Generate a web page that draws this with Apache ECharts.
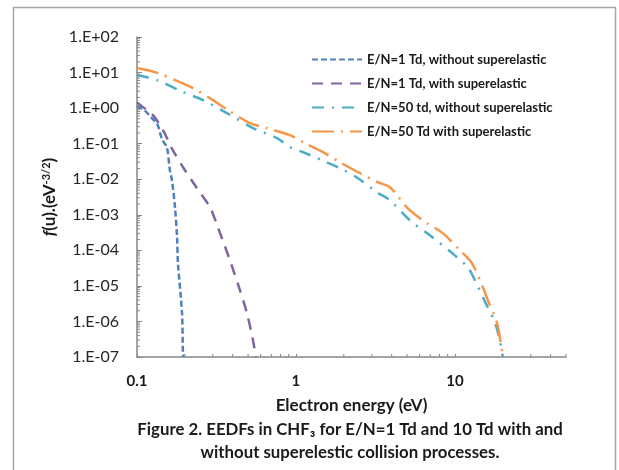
<!DOCTYPE html>
<html>
<head>
<meta charset="utf-8">
<script src="https://cdn.jsdelivr.net/npm/echarts@6/dist/echarts.min.js"></script>
<style>html,body{margin:0;padding:0;background:#fff}#c{width:619px;height:470px}</style>
</head>
<body>
<div id="c"></div>
<script>
// ---- data (x: electron energy eV, y: f(u)) ----
var seriesNames = [
  'E/N=1 Td, without superelastic',
  'E/N=1 Td, with superelastic',
  'E/N=50 td, without superelastic',
  'E/N=50 Td with superelastic'
];
var blue1Td = [[0.1,1.15],[0.112,0.85],[0.124,0.52],[0.134,0.36],[0.144,0.13],[0.154,0.08],[0.161,0.018],[0.166,0.0094],[0.1734,0.0016],[0.1786,2.4e-4],[0.181,4.3e-5],[0.192,1.7e-6],[0.1945,1.3e-7],[0.196,1e-7]];
var purple1Td = [[0.1,1.45],[0.113,0.95],[0.126,0.635],[0.1457,0.24],[0.168,0.0656],[0.2003,0.0179],[0.2385,0.00557],[0.2877,0.00163],[0.323,4.4e-4],[0.3845,5.2e-5],[0.4446,7.5e-6],[0.492,1.68e-6],[0.537,2.9e-7],[0.56,1e-7]];
var teal50Td = [[0.1,8.5],[0.1336,6.15],[0.1945,2.82],[0.26,1.68],[0.368,0.72],[0.537,0.273],[0.76,0.143],[0.916,0.0797],[1.107,0.0576],[1.457,0.0343],[1.892,0.0204],[2.455,0.01067],[3.23,0.0043],[3.9,0.00256],[5.21,7.0e-4],[6.96,2.65e-4],[10.0,7.2e-5],[12.08,3.3e-5],[13.37,1.43e-5],[15.89,2.8e-6],[17.86,9.4e-7],[19.19,2.9e-7],[20.0,1e-7]];
var orange50Td = [[0.1,13.4],[0.1297,10.3],[0.186,5.4],[0.225,3.66],[0.3005,1.68],[0.3737,0.88],[0.514,0.378],[0.657,0.273],[0.916,0.173],[1.139,0.103],[1.479,0.0576],[1.892,0.0301],[2.527,0.01475],[3.28,0.00822],[3.9,0.00595],[5.06,0.00152],[6.66,5.8e-4],[8.28,3.2e-4],[10.45,1.14e-4],[12.8,4.3e-5],[15.0,9.1e-6],[16.14,3.9e-6],[18.37,9.4e-7],[19.45,2.4e-7],[20.0,1e-7]];

// ---- axis ticks / labels ----
var xTickValues = [0.1, 1, 10];
var xTickLabels = ['0.1', '1', '10'];
var yTickLabels = ['1.E-07','1.E-06','1.E-05','1.E-04','1.E-03','1.E-02','1.E-01','1.E+00','1.E+01','1.E+02'];
var xMinorTicks = [0.2,0.3,0.4,0.5,0.6,0.7,0.8,0.9,2,3,4,5,6,7,8,9,20,30,40,50];
var yMinorMultipliers = [2,3,4,5,6,7,8,9];
var yDecades = [1e-7,1e-6,1e-5,1e-4,1e-3,1e-2,1e-1,1,10];

var xMin = 0.1, xMax = 50, yMin = 1e-7, yMax = 100;

var xTickData = xMinorTicks.map(function (v) { return [v, yMin]; });
var yTickData = [];
yDecades.forEach(function (d) { yMinorMultipliers.forEach(function (m) { yTickData.push([xMin, d * m]); }); });

var axisGray = '#868686';
var font = 'Lato, "Open Sans", sans-serif';
var textDark = '#1a1a1a';

function tickRenderer(dir) {
  return function (params, api) {
    var p = api.coord([api.value(0), api.value(1)]);
    var len = 3;
    var shape = dir === 'x'
      ? { x1: p[0], y1: p[1], x2: p[0], y2: p[1] - len }
      : { x1: p[0], y1: p[1], x2: p[0] + len, y2: p[1] };
    return { type: 'line', shape: shape, style: { stroke: axisGray, lineWidth: 1 } };
  };
}

var chart = echarts.init(document.getElementById('c'), null, { renderer: 'canvas' });
chart.setOption({
  backgroundColor: '#ffffff',
  animation: false,
  textStyle: { fontFamily: font },
  grid: { left: 137, top: 37, right: 53, bottom: 113, containLabel: false },
  graphic: [
    { type: 'rect', left: 11, top: 5, shape: { width: 602, height: 500 }, style: { fill: 'none', stroke: '#a6a6a6', lineWidth: 1.5 }, silent: true },
    { type: 'text', silent: true, z: 10, x: 350, y: 430,
      style: { text: 'Figure 2. EEDFs in CHF\u2083 for E/N=1 Td and 10 Td with and', textAlign: 'center', textVerticalAlign: 'middle', font: 'bold 16.8px ' + font, fill: textDark } },
    { type: 'text', silent: true, z: 10, x: 350, y: 453,
      style: { text: 'without superelestic collision processes.', textAlign: 'center', textVerticalAlign: 'middle', font: 'bold 16.8px ' + font, fill: textDark } }
  ],
  legend: {
    data: seriesNames,
    orient: 'vertical',
    left: 306,
    top: 48,
    itemWidth: 50,
    itemHeight: 14,
    itemGap: 11,
    itemStyle: { opacity: 0, borderWidth: 0 },
    textStyle: { fontSize: 13, fontWeight: 'bold', color: textDark, fontFamily: font }
  },
  xAxis: {
    type: 'log', logBase: 10, min: xMin, max: xMax,
    name: 'Electron energy (eV)', nameLocation: 'middle', nameGap: 40,
    nameTextStyle: { fontSize: 17, fontWeight: 'bold', color: textDark },
    axisLine: { show: true, lineStyle: { color: axisGray, width: 1.5 } },
    axisTick: { show: true, inside: true, length: 3, lineStyle: { color: axisGray } },
    splitLine: { show: false },
    axisLabel: {
      margin: 17, fontSize: 15, fontWeight: 'bold', color: textDark,
      showMaxLabel: false,
      formatter: function (v) {
        for (var i = 0; i < xTickValues.length; i++) { if (Math.abs(v - xTickValues[i]) < 1e-9 * xTickValues[i] + 1e-12) return xTickLabels[i]; }
        return '';
      }
    }
  },
  yAxis: {
    type: 'log', logBase: 10, min: yMin, max: yMax, splitNumber: 9,
    name: '{i|f}(u).(eV{sup|-3/2})', nameLocation: 'middle', nameGap: 78, nameRotate: 90,
    nameTextStyle: {
      fontSize: 17, fontWeight: 'bold', color: textDark,
      rich: {
        i: { fontSize: 17, fontWeight: 'bold', fontStyle: 'italic', color: textDark },
        sup: { fontSize: 11, fontWeight: 'bold', color: textDark, verticalAlign: 'top', padding: [0, 0, 7, 0] }
      }
    },
    axisLine: { show: true, lineStyle: { color: axisGray, width: 1.5 } },
    axisTick: { show: true, inside: true, length: 5, lineStyle: { color: axisGray } },
    splitLine: { show: false },
    axisLabel: {
      margin: 18, fontSize: 16, color: '#262626',
      formatter: function (v) {
        var idx = Math.round(Math.log10(v)) + 7;
        return yTickLabels[idx] || '';
      }
    }
  },
  series: [
    { name: seriesNames[0], type: 'line', data: blue1Td, symbol: 'none', smooth: 0.3, z: 3,
      itemStyle: { color: '#4F81BD' },
      lineStyle: { color: '#4F81BD', width: 2.5, type: [6, 3] } },
    { name: seriesNames[1], type: 'line', data: purple1Td, symbol: 'none', smooth: 0.3, z: 3,
      itemStyle: { color: '#8064A2' },
      lineStyle: { color: '#8064A2', width: 2.5, type: [11, 8] } },
    { name: seriesNames[2], type: 'line', data: teal50Td, symbol: 'none', smooth: 0.3, z: 3,
      itemStyle: { color: '#4BACC6' },
      lineStyle: { color: '#4BACC6', width: 2.5, type: [12, 8, 2, 8] } },
    { name: seriesNames[3], type: 'line', data: orange50Td, symbol: 'none', smooth: 0.3, z: 3,
      itemStyle: { color: '#F79646' },
      lineStyle: { color: '#F79646', width: 2.5, type: [22, 7, 2, 7] } },
    { name: 'xMinorTicks', type: 'custom', data: xTickData, renderItem: tickRenderer('x'), silent: true, z: 2, clip: false },
    { name: 'yMinorTicks', type: 'custom', data: yTickData, renderItem: tickRenderer('y'), silent: true, z: 2, clip: false }
  ]
});
</script>
</body>
</html>
